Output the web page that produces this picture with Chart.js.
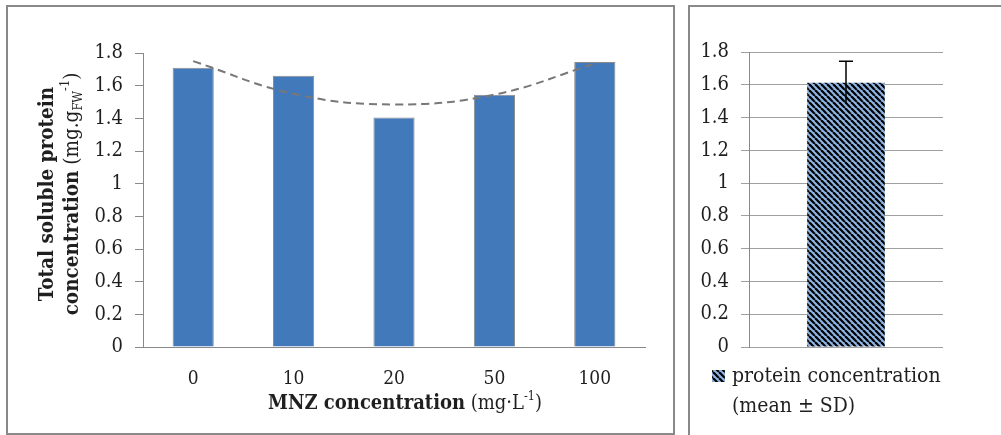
<!DOCTYPE html>
<html>
<head>
<meta charset="utf-8">
<script src="https://cdn.jsdelivr.net/npm/chart.js@4.4.0/dist/chart.umd.min.js"></script>
<style>
    body { margin: 0; background: #fff; width: 1001px; height: 435px; overflow: hidden; position: relative; }
    canvas { position: absolute; top: 0; }
    #leftBox { position: absolute; left: 6px; top: 5px; width: 665px; height: 426px; border: 2px solid #898989; pointer-events: none; }
    #rightBox { position: absolute; left: 688px; top: 5px; width: 330px; height: 440px; border-left: 2px solid #898989; border-top: 2px solid #898989; pointer-events: none; }
</style>
</head>
<body>
<canvas id="leftChart" width="680" height="435" style="left:0"></canvas>
<canvas id="rightChart" width="312" height="435" style="left:689px"></canvas>
<div id="leftBox"></div>
<div id="rightBox"></div>
<script>
// data
var mnzLabels = ['0', '10', '20', '50', '100'];
var proteinVals = [1.71, 1.66, 1.405, 1.545, 1.745];
var trendVals = [1.75, 1.55, 1.485, 1.545, 1.735];   // dashed trend line (poly)
var meanLabels = ['protein concentration'];
var meanVals = [1.613];
var sdVals = [0.13];

var SERIF = '"DejaVu Serif Condensed", "DejaVu Serif", serif';
var gray = '#898989';
var txt = '#1f1f1f';

// 1.0 -> "1", 0.0 -> "0"
function fmtTick(v) {
    return String(parseFloat(Number(v).toFixed(1)));
}

// draw text made of several pieces (bold, sub, sup) centred on cx, cy
function drawRich(ctx, segs, cx, cy, size) {
    var total = 0;
    segs.forEach(function (s) {
        var sz = (s.sub || s.sup) ? size * 0.62 : size;
        s.font = (s.bold ? 'bold ' : '') + sz + 'px ' + SERIF;
        ctx.font = s.font;
        s.w = ctx.measureText(s.t).width;
        total += s.w;
    });
    var x = cx - total / 2;
    ctx.textBaseline = 'middle';
    ctx.textAlign = 'left';
    ctx.fillStyle = txt;
    segs.forEach(function (s) {
        var dy = s.sub ? size * 0.28 : (s.sup ? -size * 0.38 : 0);
        ctx.font = s.font;
        ctx.fillText(s.t, x, cy + dy);
        x += s.w;
    });
}

var leftTitles = {
    id: 'leftTitles',
    afterDraw: function (chart) {
        var ctx = chart.ctx;
        ctx.save();
        ctx.translate(48, 194);
        ctx.rotate(-Math.PI / 2);
        drawRich(ctx, [{ t: 'Total soluble protein', bold: true }], 0, 0, 20.5);
        ctx.restore();
        ctx.save();
        ctx.translate(73, 194);
        ctx.rotate(-Math.PI / 2);
        drawRich(ctx, [
            { t: 'concentration', bold: true },
            { t: ' (mg.g' },
            { t: 'FW', sub: true },
            { t: '-1', sup: true },
            { t: ')' }
        ], 0, 0, 20.5);
        ctx.restore();
        ctx.save();
        drawRich(ctx, [
            { t: 'MNZ concentration', bold: true },
            { t: ' (mg\u00b7L' },
            { t: '-1', sup: true },
            { t: ')' }
        ], 405, 404, 20);
        ctx.restore();
    }
};

new Chart(document.getElementById('leftChart'), {
    data: {
        labels: mnzLabels,
        datasets: [
            {
                type: 'line',
                data: trendVals,
                borderColor: '#787878',
                borderWidth: 2,
                borderDash: [8, 5],
                pointRadius: 0,
                tension: 0.4,
                fill: false,
                order: 0
            },
            {
                type: 'bar',
                data: proteinVals,
                backgroundColor: '#4279bb',
                borderColor: '#8a8a8a',
                borderWidth: 1,
                barPercentage: 0.41,
                categoryPercentage: 1,
                order: 1
            }
        ]
    },
    options: {
        responsive: false,
        animation: false,
        devicePixelRatio: 1,
        layout: { padding: { left: 0, top: 53, right: 35, bottom: 0 } },
        plugins: { legend: { display: false }, tooltip: { enabled: false } },
        scales: {
            x: {
                grid: { display: false, drawTicks: false },
                border: { display: true, color: gray, width: 1 },
                ticks: { color: txt, padding: 21, font: { family: SERIF, size: 19 } },
                afterFit: function (s) { s.height = 88; }
            },
            y: {
                min: 0,
                max: 1.8,
                ticks: { stepSize: 0.2, color: txt, padding: 12, font: { family: SERIF, size: 20 }, callback: fmtTick },
                grid: { display: true, drawOnChartArea: false, drawTicks: true, tickLength: 8, color: gray },
                border: { display: true, color: gray, width: 1 },
                afterFit: function (s) { s.width = 143; }
            }
        }
    },
    plugins: [leftTitles]
});

// striped fill like the excel pattern
function makeStripes() {
    var n = 6;
    var c = document.createElement('canvas');
    c.width = n;
    c.height = n;
    var p = c.getContext('2d');
    p.fillStyle = '#8db4e3';
    p.fillRect(0, 0, n, n);
    p.strokeStyle = '#000';
    p.lineWidth = 2.2;
    [-n, 0, n].forEach(function (x0) {
        p.beginPath();
        p.moveTo(x0, 0);
        p.lineTo(x0 + n, n);
        p.stroke();
    });
    return p.createPattern(c, 'repeat');
}
var stripes = makeStripes();

var errorBars = {
    id: 'errorBars',
    afterDatasetsDraw: function (chart) {
        var ctx = chart.ctx;
        var meta = chart.getDatasetMeta(0);
        var yS = chart.scales.y;
        ctx.save();
        ctx.strokeStyle = '#000';
        ctx.lineWidth = 1.5;
        meta.data.forEach(function (bar, i) {
            var top = yS.getPixelForValue(meanVals[i] + sdVals[i]);
            var bot = yS.getPixelForValue(meanVals[i] - sdVals[i]);
            ctx.beginPath();
            ctx.moveTo(bar.x, bot);
            ctx.lineTo(bar.x, top);
            ctx.moveTo(bar.x - 7, top);
            ctx.lineTo(bar.x + 7, top);
            ctx.stroke();
        });
        ctx.restore();
    }
};

var rightLegend = {
    id: 'rightLegend',
    afterDraw: function (chart) {
        var ctx = chart.ctx;
        ctx.save();
        ctx.fillStyle = stripes;
        ctx.fillRect(23, 370, 13, 12);
        ctx.fillStyle = txt;
        ctx.font = '21px ' + SERIF;
        ctx.textBaseline = 'middle';
        ctx.textAlign = 'left';
        ctx.fillText(meanLabels[0], 43, 377);
        ctx.fillText('(mean \u00b1 SD)', 43, 407);
        ctx.restore();
    }
};

new Chart(document.getElementById('rightChart'), {
    type: 'bar',
    data: {
        labels: meanLabels,
        datasets: [{
            data: meanVals,
            backgroundColor: stripes,
            borderWidth: 0,
            barPercentage: 0.4,
            categoryPercentage: 1
        }]
    },
    options: {
        responsive: false,
        animation: false,
        devicePixelRatio: 1,
        layout: { padding: { left: 0, top: 52, right: 58, bottom: 0 } },
        plugins: { legend: { display: false }, tooltip: { enabled: false } },
        scales: {
            x: {
                ticks: { display: false },
                grid: { display: false, drawTicks: false },
                border: { display: false },
                afterFit: function (s) { s.height = 88; }
            },
            y: {
                min: 0,
                max: 1.8,
                ticks: { stepSize: 0.2, color: txt, padding: 12, font: { family: SERIF, size: 20 }, callback: fmtTick },
                grid: { color: '#a0a0a0', drawTicks: true, tickLength: 8 },
                border: { display: true, color: gray, width: 1 },
                afterFit: function (s) { s.width = 60; }
            }
        }
    },
    plugins: [errorBars, rightLegend]
});
</script>
</body>
</html>
